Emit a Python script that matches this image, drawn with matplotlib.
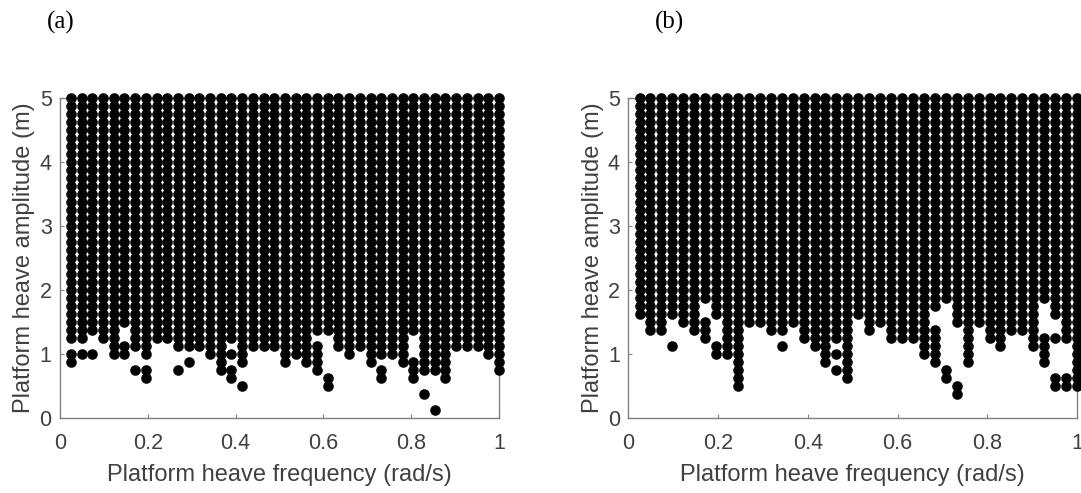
import numpy as np
import matplotlib
matplotlib.use("Agg")
import matplotlib.pyplot as plt

# Sweep grid: 41 heave frequencies, 40 heave amplitudes
freq = np.linspace(0.025, 1.0, 41)
amp = np.arange(1, 41) * 0.125

# Panel (a): lowest amplitude of the solid block in each frequency column
low_a = [1.25, 1.25, 1.375, 1.25, 1.0, 1.0, 1.125, 1.0, 1.25, 1.25,
         1.125, 1.125, 1.125, 1.0, 0.75, 0.625, 0.875, 1.125, 1.125, 1.125,
         0.875, 1.0, 0.875, 0.75, 1.375, 1.125, 1.0, 1.125, 0.875, 1.0,
         1.0, 0.875, 0.625, 0.75, 0.75, 0.625, 1.125, 1.125, 1.125, 1.0,
         0.75]
# missing points inside the block / isolated points below it (column number -> amplitudes)
holes_a = {6: [1.375, 1.25], 16: [1.125, 0.875], 24: [1.25], 33: [1.25, 1.125, 1.0]}
extra_a = {1: [1.0, 0.875], 2: [1.0], 3: [1.0], 7: [0.75], 8: [0.75, 0.625],
           11: [0.75], 12: [0.875], 17: [0.5], 25: [0.625, 0.5], 30: [0.75, 0.625],
           34: [0.375], 35: [0.125]}

# Panel (b)
low_b = [1.625, 1.375, 1.375, 1.625, 1.5, 1.375, 1.25, 1.0, 1.0, 0.5,
         1.5, 1.5, 1.375, 1.375, 1.5, 1.25, 1.125, 0.875, 0.75, 0.625,
         1.625, 1.375, 1.5, 1.25, 1.25, 1.25, 1.0, 0.875, 1.875, 1.5,
         0.875, 1.5, 1.25, 1.125, 1.375, 1.375, 1.125, 0.875, 1.625, 1.25,
         0.5]
holes_b = {7: [1.75, 1.625], 8: [1.5, 1.375, 1.25], 19: [1.125, 0.875],
           28: [1.625, 1.5], 38: [1.75, 1.625, 1.5, 1.375]}
extra_b = {4: [1.125], 14: [1.125], 29: [0.75, 0.625], 30: [0.5, 0.375],
           39: [1.25, 0.625, 0.5], 40: [0.625, 0.5]}

GRAY = "#808080"
TXT = "#404040"


def points(low, holes, extra):
    xs, ys = [], []
    for k, (f, lo) in enumerate(zip(freq, low), start=1):
        gone = holes.get(k, [])
        for a in amp:
            if a >= lo - 1e-9 and not any(abs(a - h) < 1e-9 for h in gone):
                xs.append(f)
                ys.append(a)
        for a in extra.get(k, []):
            xs.append(f)
            ys.append(a)
    return xs, ys


def style(ax):
    ax.set_xlim(0, 1)
    ax.set_ylim(0, 5)
    ax.set_xticks([0, 0.2, 0.4, 0.6, 0.8, 1])
    ax.set_xticklabels(["0", "0.2", "0.4", "0.6", "0.8", "1"])
    ax.set_yticks([0, 1, 2, 3, 4, 5])
    ax.tick_params(direction="in", length=3, width=0.8, color=GRAY,
                   labelsize=15.5, labelcolor=TXT)
    ax.tick_params(axis="x", pad=11)
    ax.tick_params(axis="y", pad=6)
    for s in ax.spines.values():
        s.set_color(GRAY)
        s.set_linewidth(1.0)
        s.set_zorder(1)
    ax.set_xlabel("Platform heave frequency (rad/s)", fontsize=17, color=TXT, labelpad=7)
    ax.set_ylabel("Platform heave amplitude (m)", fontsize=17, color=TXT, labelpad=3)


plt.rcParams["font.family"] = ["Liberation Sans", "DejaVu Sans"]
fig = plt.figure(figsize=(10.81, 4.93), dpi=100)

ax_a = fig.add_axes([60 / 1081, 75.5 / 493, 439 / 1081, 320 / 493])
ax_b = fig.add_axes([628.3 / 1081, 75.5 / 493, 448.7 / 1081, 320 / 493])

for ax, low, holes, extra in [(ax_a, low_a, holes_a, extra_a), (ax_b, low_b, holes_b, extra_b)]:
    xs, ys = points(low, holes, extra)
    ax.scatter(xs, ys, s=58, c="black", linewidths=0, zorder=3, clip_on=False)
    style(ax)

fig.text(61 / 1081, 1 - 22 / 493, "(a)", fontsize=18, family="Liberation Serif",
         ha="center", va="center", color="black")
fig.text(670 / 1081, 1 - 22 / 493, "(b)", fontsize=18, family="Liberation Serif",
         ha="center", va="center", color="black")

fig.savefig("out.png", dpi=100)
